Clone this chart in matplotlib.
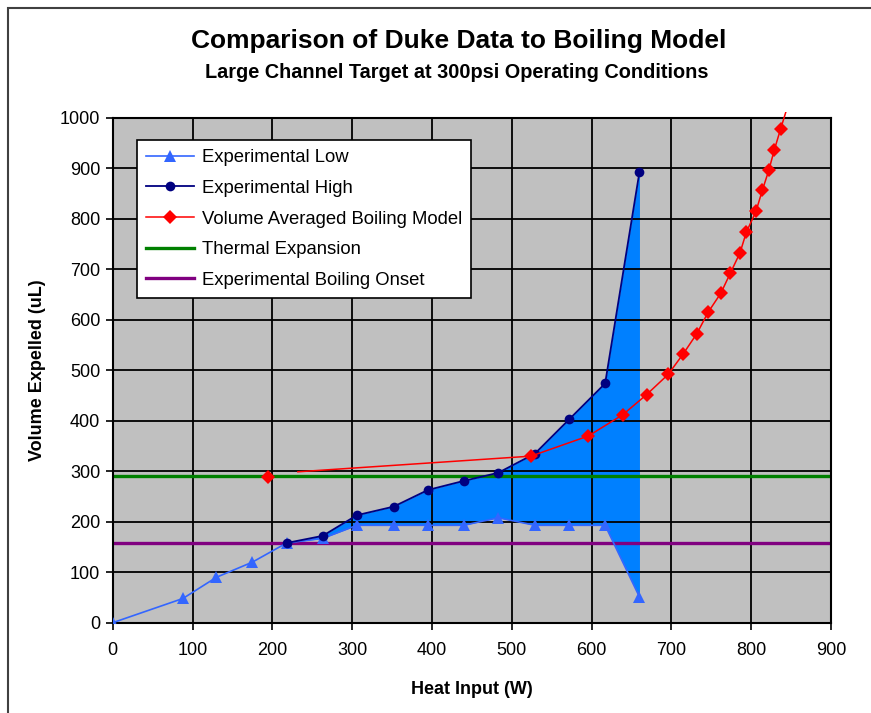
import numpy as np
import matplotlib
matplotlib.use("Agg")
import matplotlib.pyplot as plt
from matplotlib.patches import Rectangle
from matplotlib.lines import Line2D

plt.rcParams['font.family'] = ['Liberation Sans', 'DejaVu Sans']

# Heat input (W) shared by both experimental bounds
heat = [0, 88, 130, 175, 218, 263, 306, 352, 395, 440, 483, 529, 572, 617, 660]
exp_low = [0, 48, 90, 120, 158, 167, 193, 193, 193, 193, 208, 193, 193, 193, 51]

# Experimental high starts where boiling begins
heat_high = [218, 263, 306, 352, 395, 440, 483, 529, 572, 617, 660]
exp_high = [158, 172, 213, 230, 263, 281, 297, 335, 403, 474, 893]

# Volume averaged boiling model (NaN separates the isolated first point)
model_heat = [194, np.nan, 232, 524, 596, 639, 669, 696, 715, 732, 746, 762, 774,
              786, 794, 806, 814, 822, 829, 837, 846]
model_vol = [289, np.nan, 299, 330, 370, 412, 452, 492, 533, 573, 615, 653, 693,
             733, 774, 815, 857, 896, 937, 979, 1025]

thermal_expansion = 291
boiling_onset = 158

x_ticks = list(range(0, 1000, 100))
y_ticks = list(range(0, 1100, 100))

fig = plt.figure(figsize=(8.71, 7.13), dpi=100)
ax = fig.add_axes([112.7 / 871, 1 - 622.7 / 713, (831 - 112.7) / 871, (622.7 - 118) / 713])
ax.set_facecolor('#C0C0C0')

# outer chart frame
fig.patches.append(Rectangle((8 / 871, -0.1), 1.2, 1 - 8 / 713 + 0.1,
                             transform=fig.transFigure, fill=False,
                             edgecolor='#404040', linewidth=1.5))

ax.set_xlim(0, 900)
ax.set_ylim(0, 1000)
ax.set_xticks(x_ticks)
ax.set_yticks(y_ticks)
ax.grid(True, color='black', linewidth=1.3)
ax.set_axisbelow(True)
for sp in ax.spines.values():
    sp.set_color('black')
    sp.set_linewidth(1.5)
ax.tick_params(length=5, width=1.2, labelsize=13, colors='black', pad=4)
ax.tick_params(axis='x', pad=9)

# shaded band between experimental bounds
hi = np.array(exp_high, dtype=float)
lo = np.array(exp_low[len(heat) - len(heat_high):], dtype=float)
ax.fill_between(heat_high, lo, hi, color='#0080FF', linewidth=0, zorder=0.3)

ax.axhline(thermal_expansion, color='#008000', linewidth=2.4, zorder=2)
ax.axhline(boiling_onset, color='#800080', linewidth=2.4, zorder=2)

ax.plot(heat, exp_low, color='#3366FF', linewidth=1.2, marker='^', markersize=8.5,
        markeredgewidth=0, zorder=3)
ax.plot(heat_high, exp_high, color='#000080', linewidth=1.3, marker='o', markersize=7,
        markeredgewidth=0, zorder=4)
marker_idx = [i for i in range(len(model_heat)) if i not in (1, 2, len(model_heat) - 1)]
red, = ax.plot(model_heat, model_vol, color='#FF0000', linewidth=1.1, marker='D',
               markersize=7, markeredgewidth=0, markevery=marker_idx, zorder=5)
red.set_clip_path(Rectangle((0, 0), 1, 1.012, transform=ax.transAxes))

ax.set_xlabel('Heat Input (W)', fontsize=13, fontweight='bold', labelpad=16)
ax.set_ylabel('Volume Expelled (uL)', fontsize=13, fontweight='bold', labelpad=10)

fig.text(459 / 871, 1 - 41 / 713, 'Comparison of Duke Data to Boiling Model', ha='center',
         va='center', fontsize=19, fontweight='bold')
fig.text(457 / 871, 1 - 73 / 713, 'Large Channel Target at 300psi Operating Conditions',
         ha='center', va='center', fontsize=14.3, fontweight='bold')

handles = [
    Line2D([], [], color='#3366FF', linewidth=1.2, marker='^', markersize=8.5, markeredgewidth=0),
    Line2D([], [], color='#000080', linewidth=1.3, marker='o', markersize=7, markeredgewidth=0),
    Line2D([], [], color='#FF0000', linewidth=1.1, marker='D', markersize=7, markeredgewidth=0),
    Line2D([], [], color='#008000', linewidth=2.4),
    Line2D([], [], color='#800080', linewidth=2.4),
]
labels = ['Experimental Low', 'Experimental High', 'Volume Averaged Boiling Model',
          'Thermal Expansion', 'Experimental Boiling Onset']
leg = ax.legend(handles, labels, loc='upper left', bbox_to_anchor=(137 / 871, 1 - 140 / 713),
                bbox_transform=fig.transFigure, fontsize=13.3, frameon=True, fancybox=False,
                edgecolor='black', facecolor='white', framealpha=1, handlelength=2.6,
                labelspacing=0.74, borderpad=0.5, handletextpad=0.4, borderaxespad=0)
leg.get_frame().set_linewidth(1.2)
leg.set_zorder(10)

fig.savefig('out.png', dpi=100)
